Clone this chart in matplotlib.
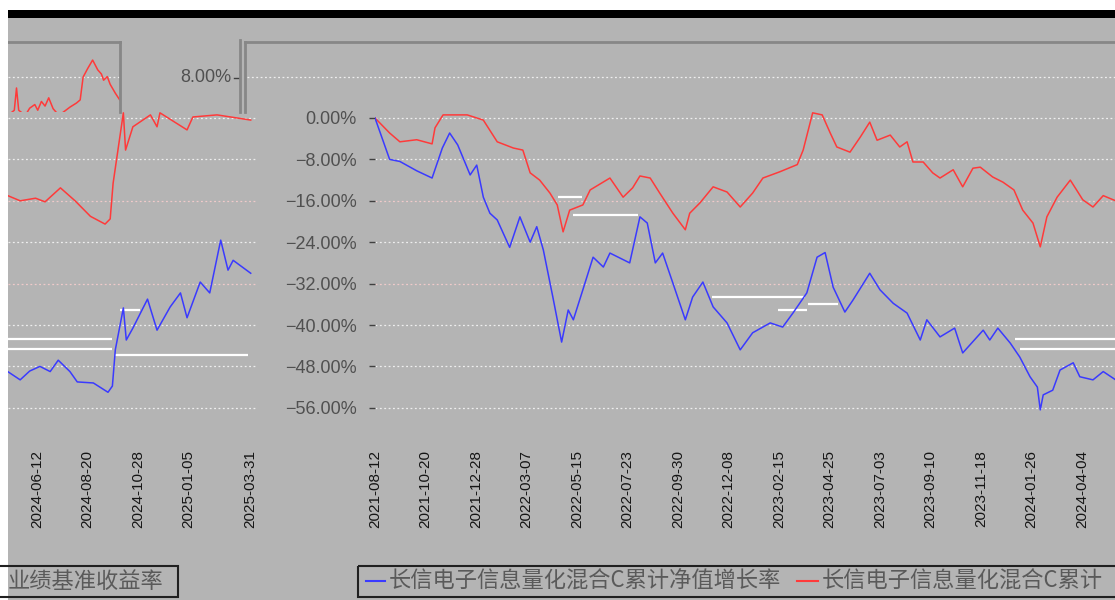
import numpy as np, pandas as pd, matplotlib
matplotlib.use("Agg"); import matplotlib.pyplot as plt
from matplotlib.patches import Rectangle

plt.rcParams['font.family'] = ['Liberation Sans', 'Noto Sans CJK SC', 'DejaVu Sans']

W, H = 1115, 600
BG, BLUE, RED, GRID = "#b4b4b4", "#3a3aff", "#ff3a3a", "#eeeeee"

# 累计净值增长率 (%)
nav_dates = ["2021-08-12", "2021-09-01", "2021-09-15", "2021-10-08", "2021-10-29", "2021-11-12", "2021-11-22",
             "2021-12-03", "2021-12-20", "2021-12-29", "2022-01-07", "2022-01-16", "2022-01-26", "2022-02-12",
             "2022-02-26", "2022-03-12", "2022-03-21", "2022-03-30", "2022-04-12", "2022-04-24", "2022-05-03",
             "2022-05-10", "2022-05-23", "2022-06-06", "2022-06-20", "2022-06-29", "2022-07-26", "2022-08-09",
             "2022-08-19", "2022-08-30", "2022-09-09", "2022-09-23", "2022-10-10", "2022-10-20", "2022-11-03",
             "2022-11-17", "2022-12-06", "2022-12-24", "2023-01-10", "2023-02-03", "2023-02-20", "2023-03-06",
             "2023-03-25", "2023-04-08", "2023-04-19", "2023-04-30", "2023-05-16", "2023-05-27", "2023-06-19",
             "2023-07-03", "2023-07-21", "2023-08-09", "2023-08-27", "2023-09-05", "2023-09-23", "2023-10-13",
             "2023-10-24", "2023-11-21", "2023-11-30", "2023-12-11", "2023-12-28", "2024-01-10", "2024-01-24",
             "2024-02-03", "2024-02-07", "2024-02-11", "2024-02-24", "2024-03-05", "2024-03-23", "2024-04-01",
             "2024-04-19", "2024-05-03", "2024-05-20", "2024-06-02", "2024-06-16", "2024-06-30", "2024-07-11",
             "2024-07-27", "2024-08-06", "2024-08-28", "2024-09-17", "2024-09-23", "2024-09-27", "2024-10-08",
             "2024-10-12", "2024-10-21", "2024-11-10", "2024-11-23", "2024-12-11", "2024-12-25", "2025-01-03",
             "2025-01-21", "2025-02-03", "2025-02-18", "2025-02-28", "2025-03-07", "2025-03-31"]
nav_vals = [0.0, -8.0, -8.4, -10.2, -11.6, -5.8, -2.9,
            -5.2, -11.0, -9.1, -15.3, -18.4, -19.7, -25.0,
            -19.1, -24.0, -21.0, -25.5, -34.6, -43.3, -37.1,
            -39.0, -33.2, -26.9, -28.8, -26.1, -28.0, -19.1,
            -20.3, -28.0, -26.1, -31.9, -39.0, -34.6, -31.7,
            -36.5, -39.6, -44.8, -41.5, -39.6, -40.4, -37.7,
            -33.8, -26.9, -26.0, -32.7, -37.5, -35.2, -30.0,
            -33.2, -35.8, -37.7, -42.9, -39.0, -42.3, -40.6,
            -45.4, -41.0, -42.9, -40.6, -43.5, -46.2, -50.0,
            -52.0, -56.4, -53.5, -52.6, -48.7, -47.3, -50.0,
            -50.6, -49.0, -50.6, -48.9, -48.0, -49.0, -46.8,
            -49.0, -51.0, -51.2, -53.0, -51.8, -44.8, -36.7,
            -42.9, -40.6, -35.0, -41.0, -36.5, -33.8, -38.6,
            -31.7, -33.8, -23.6, -29.4, -27.5, -30.0]

# 第二条累计序列 (%)
bm_dates = ["2021-08-12", "2021-09-01", "2021-09-15", "2021-10-08", "2021-10-29", "2021-11-02", "2021-11-13",
            "2021-12-16", "2022-01-07", "2022-01-26", "2022-02-17", "2022-03-02", "2022-03-12", "2022-03-25",
            "2022-04-08", "2022-04-18", "2022-04-26", "2022-05-05", "2022-05-23", "2022-06-02", "2022-06-29",
            "2022-07-17", "2022-07-30", "2022-08-09", "2022-08-23", "2022-09-05", "2022-09-23", "2022-10-10",
            "2022-10-16", "2022-10-30", "2022-11-17", "2022-12-06", "2022-12-24", "2023-01-10", "2023-01-24",
            "2023-02-16", "2023-03-12", "2023-03-20", "2023-04-02", "2023-04-15", "2023-04-26", "2023-05-05",
            "2023-05-23", "2023-06-06", "2023-06-19", "2023-06-29", "2023-07-17", "2023-07-30", "2023-08-09",
            "2023-08-17", "2023-08-31", "2023-09-13", "2023-09-23", "2023-10-11", "2023-10-24", "2023-11-07",
            "2023-11-17", "2023-12-04", "2023-12-18", "2024-01-02", "2024-01-14", "2024-01-28", "2024-02-07",
            "2024-02-16", "2024-03-01", "2024-03-19", "2024-03-28", "2024-04-05", "2024-04-19", "2024-05-03",
            "2024-05-20", "2024-06-10", "2024-06-23", "2024-07-14", "2024-08-03", "2024-08-24", "2024-09-13",
            "2024-09-20", "2024-09-24", "2024-10-08", "2024-10-11", "2024-10-21", "2024-11-14", "2024-11-23",
            "2024-11-27", "2025-01-03", "2025-01-11", "2025-02-13", "2025-03-31"]
bm_vals = [0.0, -2.9, -4.6, -4.2, -5.0, -1.9, 0.6,
           0.6, -0.4, -4.6, -5.8, -6.2, -10.6, -12.0,
           -14.5, -16.8, -22.0, -17.8, -16.8, -13.9, -11.6,
           -15.3, -13.5, -11.2, -11.6, -14.5, -18.4, -21.6,
           -18.4, -16.4, -13.3, -14.3, -17.2, -14.5, -11.6,
           -10.4, -9.0, -6.2, 1.0, 0.6, -2.9, -5.6,
           -6.6, -3.7, -0.8, -4.3, -3.3, -5.6, -4.6,
           -8.5, -8.5, -10.6, -11.6, -10.0, -13.3, -9.7,
           -9.5, -11.4, -12.4, -13.9, -17.8, -20.3, -24.9,
           -19.1, -15.3, -12.0, -14.0, -15.8, -17.2, -15.0,
           -16.0, -15.5, -16.2, -13.5, -16.0, -19.0, -20.5,
           -19.5, -12.6, 1.0, -6.2, -1.7, 0.6, -1.7,
           1.0, -2.3, 0.2, 0.6, -0.4]

# 左上角残留的一段旧曲线 (%)
ghost_dates = ["2024-05-03", "2024-05-12", "2024-05-15", "2024-05-18", "2024-05-27", "2024-06-02", "2024-06-09",
               "2024-06-13", "2024-06-18", "2024-06-23", "2024-06-28", "2024-07-04", "2024-07-12", "2024-07-27",
               "2024-08-05", "2024-08-10", "2024-08-14", "2024-08-20", "2024-08-27", "2024-09-03", "2024-09-08",
               "2024-09-11", "2024-09-16", "2024-09-20", "2024-09-27", "2024-10-03"]
ghost_vals = [0.5, 1.5, 5.8, 1.5, 0.5, 1.9, 2.6,
              1.5, 3.2, 2.3, 3.9, 1.8, 0.5, 2.1,
              2.9, 3.5, 7.9, 9.5, 11.2, 9.3, 8.5,
              7.3, 8.0, 6.5, 4.8, 3.5]

# 白色水平残线 (起, 止, 值%)
seg_start = ["2022-04-19", "2022-05-10", "2022-11-15", "2023-03-27", "2023-02-14", "2024-01-03", "2024-01-10",
             "2024-10-04", "2024-09-27"]
seg_end = ["2022-05-22", "2022-08-06", "2023-03-23", "2023-05-07", "2023-03-25", "2024-09-23", "2024-09-23",
           "2024-10-31", "2025-03-27"]
seg_val = [-15.3, -18.7, -34.6, -35.9, -37.1, -42.7, -44.6, -37.1, -45.8]

right_ticks = ["2021-08-12", "2021-10-20", "2021-12-28", "2022-03-07", "2022-05-15", "2022-07-23", "2022-09-30",
               "2022-12-08", "2023-02-15", "2023-04-25", "2023-07-03", "2023-09-10", "2023-11-18", "2024-01-26",
               "2024-04-04"]
left_ticks = ["2024-06-12", "2024-08-20", "2024-10-28", "2025-01-05", "2025-03-31"]
yticks = [0, -8, -16, -24, -32, -40, -48, -56]

nav_d, bm_d, gh_d = pd.to_datetime(nav_dates), pd.to_datetime(bm_dates), pd.to_datetime(ghost_dates)

PPP = 41.4 / 8          # px per percent
DPP = 69 / 50.5         # days per px
Y0 = 118                # px row of 0%


def box(x0, y0, x1, y1):
    return [x0 / W, 1 - y1 / H, (x1 - x0) / W, (y1 - y0) / H]


def xl(anchor, px_anchor, x0, x1):
    a = pd.Timestamp(anchor)
    return (a + pd.Timedelta(days=(x0 - px_anchor) * DPP), a + pd.Timedelta(days=(x1 - px_anchor) * DPP))


fig = plt.figure(figsize=(W / 100, H / 100), dpi=100, facecolor=BG)
ylim = ((Y0 - 440) / PPP, (Y0 - 42) / PPP)


def panel(rect, xlim, ticks, show_y):
    ax = fig.add_axes(rect)
    ax.set_facecolor("none")
    for s in ax.spines.values():
        s.set_visible(False)
    ax.set_xlim(*xlim); ax.set_ylim(*ylim)
    for v in yticks:
        c = "#f0caca" if v in (-16, -32) else GRID
        ax.axhline(v, color=c, lw=0.9, ls=(0, (1.5, 2)), zorder=1)
    ax.hlines(seg_val, pd.to_datetime(seg_start), pd.to_datetime(seg_end), color="white", lw=1.6, zorder=2)
    ax.plot(bm_d, bm_vals, color=RED, lw=1.1, zorder=3)
    ax.plot(nav_d, nav_vals, color=BLUE, lw=1.1, zorder=4)
    ax.set_xticks(pd.to_datetime(ticks))
    ax.set_xticklabels(ticks, rotation=90, fontsize=11, color="#151515")
    ax.tick_params(axis="x", length=0, pad=7)
    if show_y:
        ax.set_yticks(yticks)
        ax.set_yticklabels([f"{v:.2f}%".replace("-", "\u2212") for v in yticks], fontsize=13, color="#505050")
        ax.tick_params(axis="y", length=4, width=1, color="#404040", pad=9)
    else:
        ax.set_yticks([])
    return ax


ax_r = panel(box(375, 42, W, 440), xl(right_ticks[0], 375, 375, W), right_ticks, True)
ax_r.axhline(8, xmin=(247 - 375) / (W - 375), xmax=1, color=GRID, lw=0.9, ls=(0, (1.5, 2)), clip_on=False)
ax_l = panel(box(8, 42, 256, 440), xl(left_ticks[0], 37, 8, 256), left_ticks, False)

# 左上角框内旧曲线
ax_g = fig.add_axes(box(8, 42, 120, 112))
ax_g.set_facecolor("none")
ax_g.set_xlim(*xl(left_ticks[0], 37, 8, 120)); ax_g.set_ylim((Y0 - 112) / PPP, (Y0 - 42) / PPP)
ax_g.axhline(8, color=GRID, lw=0.9, ls=(0, (1.5, 2)))
ax_g.plot(gh_d, ghost_vals, color=RED, lw=1.1)
ax_g.set_xticks([]); ax_g.set_yticks([])
for k, s in ax_g.spines.items():
    s.set_visible(k in ("top", "right")); s.set_color("#878787"); s.set_linewidth(2)

# 覆盖层：边框、顶栏、图例
ov = fig.add_axes([0, 0, 1, 1], zorder=10)
ov.set_xlim(0, W); ov.set_ylim(H, 0); ov.axis("off"); ov.set_facecolor("none")
ov.plot([245, W], [42, 42], color="#878787", lw=2)
ov.plot([245, 245], [42, 112], color="#878787", lw=2)
ov.plot([240, 240], [40, 112], color="#878787", lw=2)
ov.text(231, 78, "8.00%", ha="right", va="center", fontsize=13, color="#505050")
ov.plot([234, 238], [78, 78], color="#404040", lw=1)
ov.add_patch(Rectangle((0, 0), W, 10, color="white", lw=0))
ov.add_patch(Rectangle((8, 10), W, 8, color="black", lw=0))
ov.add_patch(Rectangle((0, 0), 8, H, color="white", lw=0))

cjk = ['Noto Sans CJK SC', 'DejaVu Sans']
ov.add_patch(Rectangle((-20, 566), 198, 31, fill=False, ec="#202020", lw=1.5))
ov.text(8, 581, "业绩基准收益率", ha="left", va="center", fontsize=16, color="#5a5a5a", family=cjk)
ov.add_patch(Rectangle((358, 566), W, 31, fill=False, ec="#202020", lw=1.5))
ov.plot([366, 385], [581, 581], color=BLUE, lw=1.5)
ov.text(389, 581, "长信电子信息量化混合C累计净值增长率", ha="left", va="center", fontsize=16,
        color="#5a5a5a", family=cjk)
ov.plot([797, 818], [581, 581], color=RED, lw=1.5)
ov.text(822, 581, "长信电子信息量化混合C累计", ha="left", va="center", fontsize=16, color="#5a5a5a", family=cjk)

fig.savefig("out.png", dpi=100, facecolor=BG)
